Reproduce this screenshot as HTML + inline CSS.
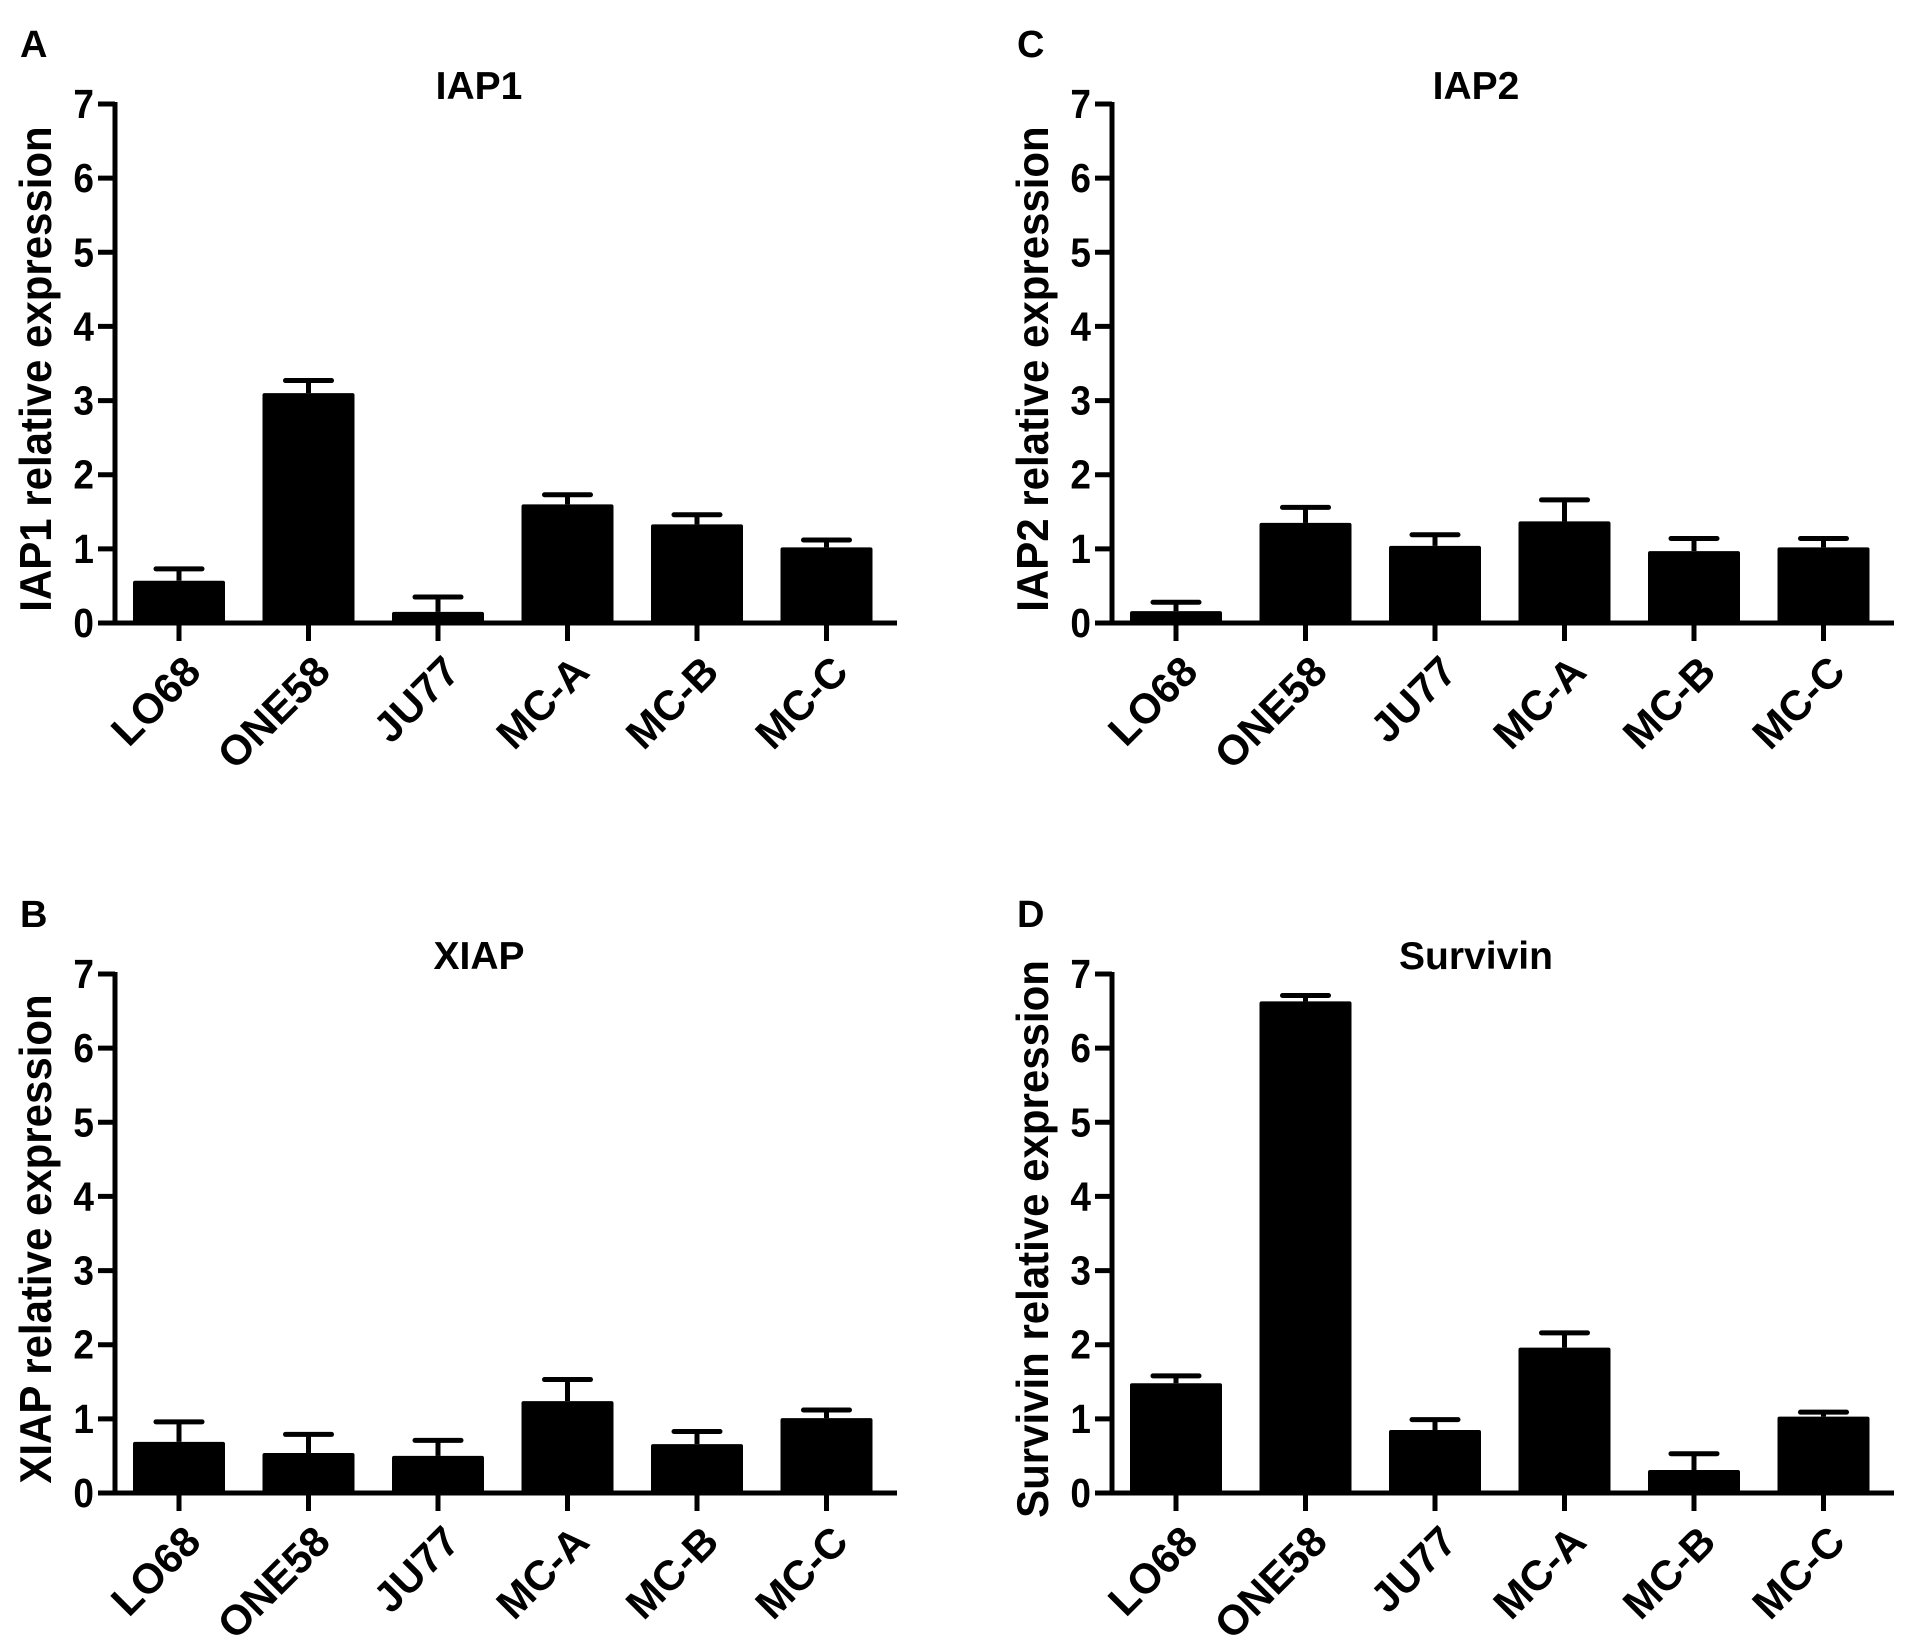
<!DOCTYPE html>
<html><head><meta charset="utf-8">
<style>
html,body{margin:0;padding:0;background:#fff;}
svg{display:block;font-family:"Liberation Sans",Arial,sans-serif;font-weight:bold;}
</style></head>
<body>
<svg id="fig" width="1913" height="1651" viewBox="0 0 1913 1651" xmlns="http://www.w3.org/2000/svg">
<rect width="1913" height="1651" fill="#fff"/>
</svg>
<script>
const categories = ["LO68","ONE58","JU77","MC-A","MC-B","MC-C"];
const yTicks = [0,1,2,3,4,5,6,7];
const iap1Values = [0.57,3.10,0.15,1.60,1.33,1.02];
const iap1Errors = [0.73,3.27,0.35,1.73,1.46,1.12];
const iap2Values = [0.16,1.35,1.04,1.37,0.97,1.02];
const iap2Errors = [0.28,1.56,1.19,1.66,1.14,1.14];
const xiapValues = [0.69,0.54,0.50,1.24,0.66,1.01];
const xiapErrors = [0.96,0.79,0.71,1.53,0.83,1.12];
const survValues = [1.48,6.63,0.85,1.96,0.31,1.03];
const survErrors = [1.58,6.71,0.99,2.16,0.53,1.09];

const NS = "http://www.w3.org/2000/svg";
const svg = document.getElementById('fig');
function mk(tag, attrs, parent){
  const e = document.createElementNS(NS, tag);
  for (const k in attrs) e.setAttribute(k, attrs[k]);
  parent.appendChild(e);
  return e;
}
function panel(id, letter, title, ytitle, values, errors, dx, dy){
  const g = mk('g', {transform:`translate(${dx},${dy})`}, svg);
  
  
  const ax = 115, y0 = 623, y7 = 104;
  const yScale = v => y0 - (y0 - y7) * v / 7;
  const xScale = i => 179 + i * 129.5;
  const L = mk('text', {x:20, y:57, 'font-size':38}, g);
  L.textContent = letter;
  
  
  const T = mk('text', {x:479, y:99, 'font-size':39, 'text-anchor':'middle'}, g);
  T.textContent = title;
  
  
  const YT = mk('text', {x:0, y:0, 'font-size':42, 'text-anchor':'middle', transform:`translate(51,369) rotate(-90) scale(1,1.05)`}, g);
  YT.textContent = ytitle;
  
  
  values.forEach((v, i) => {
    const cx = xScale(i);
    const e = errors[i];
    const el = mk('line', {x1:cx, x2:cx, y1:yScale(v), y2:yScale(e), stroke:'#000', 'stroke-width':5}, g);
    
    
    const cap = mk('line', {x1:cx-23, x2:cx+23, y1:yScale(e), y2:yScale(e), stroke:'#000', 'stroke-width':5, 'stroke-linecap':'round'}, g);
    
    
    const b = mk('rect', {x:cx-46, y:yScale(v), width:92, height:y0 - yScale(v), fill:'#000', rx:2}, g);
    
    
  });
  const ya = mk('line', {x1:ax, x2:ax, y1:y7-2, y2:y0+2, stroke:'#000', 'stroke-width':5}, g);
  
  
  const xa = mk('line', {x1:98, x2:897, y1:y0, y2:y0, stroke:'#000', 'stroke-width':5}, g);
  
  
  yTicks.forEach(t => {
    const y = yScale(t);
    const tk = mk('line', {x1:98, x2:ax, y1:y, y2:y, stroke:'#000', 'stroke-width':5}, g);
    
    
    const tl = mk('text', {x:0, y:0, 'font-size':37, 'text-anchor':'end', transform:`translate(94,${y+14}) scale(1,1.1)`}, g);
    tl.textContent = t;
    
    
  });
  categories.forEach((c, i) => {
    const cx = xScale(i);
    const tk = mk('line', {x1:cx, x2:cx, y1:y0, y2:641, stroke:'#000', 'stroke-width':5}, g);
    
    
    const tl = mk('text', {x:0, y:0, 'font-size':42, 'text-anchor':'end', transform:`translate(${cx+24},${674}) rotate(-45)`}, g);
    tl.textContent = c;
    
    
  });
}
panel('iap1', 'A', 'IAP1', 'IAP1 relative expression', iap1Values, iap1Errors, 0, 0);
panel('iap2', 'C', 'IAP2', 'IAP2 relative expression', iap2Values, iap2Errors, 997, 0);
panel('xiap', 'B', 'XIAP', 'XIAP relative expression', xiapValues, xiapErrors, 0, 870);
panel('survivin', 'D', 'Survivin', 'Survivin relative expression', survValues, survErrors, 997, 870);
</script>
</body></html>
